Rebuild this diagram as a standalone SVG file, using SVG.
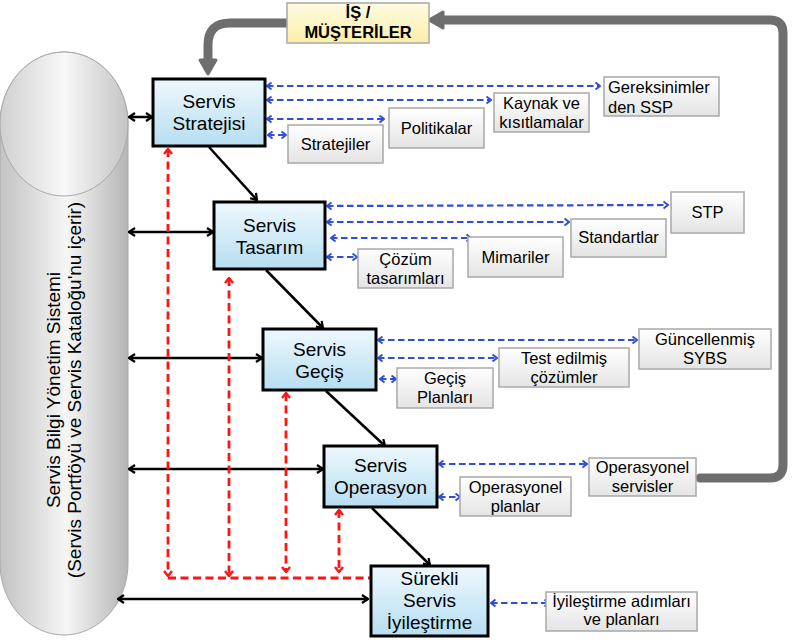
<svg xmlns="http://www.w3.org/2000/svg" width="809" height="640" viewBox="0 0 809 640">
<style>
.main{stroke:#000;stroke-width:3;fill:url(#gBlue)}
.sec{stroke:#a8a8a8;stroke-width:1.5;fill:url(#gGrey)}
.mt{font-family:"Liberation Sans",Arial,sans-serif;font-size:19px;fill:#000;text-anchor:middle}
.st{font-family:"Liberation Sans",Arial,sans-serif;font-size:16.5px;fill:#000;text-anchor:middle}
.blk{stroke:#000;stroke-width:2.5;fill:none;marker-end:url(#mB)}
.blk2{stroke:#000;stroke-width:2.5;fill:none;marker-end:url(#mB);marker-start:url(#mB)}
.blu{stroke:#2f4fd9;stroke-width:2.2;stroke-dasharray:6.5,3.5;fill:none;marker-end:url(#mU);marker-start:url(#mU)}
.red{stroke:#ff1414;stroke-width:2.8;stroke-dasharray:8,4.5;fill:none}
.redA{stroke:#ff1414;stroke-width:2.8;stroke-dasharray:8,4.5;fill:none;marker-end:url(#mR);marker-start:url(#mR)}
.gry{stroke:#6e6e6e;stroke-width:9;fill:none;stroke-linecap:round;stroke-linejoin:round}
</style>
<defs>
<linearGradient id="gBlue" x1="0" y1="0" x2="0" y2="1"><stop offset="0" stop-color="#eef8fd"/><stop offset="1" stop-color="#b6def2"/></linearGradient>
<linearGradient id="gGrey" x1="0" y1="0" x2="0" y2="1"><stop offset="0" stop-color="#ffffff"/><stop offset="1" stop-color="#e4e4e4"/></linearGradient>
<linearGradient id="gYel" x1="0" y1="0" x2="0" y2="1"><stop offset="0" stop-color="#fffbe2"/><stop offset="1" stop-color="#fbeea8"/></linearGradient>
<linearGradient id="gCyl" x1="0" y1="0" x2="1" y2="0"><stop offset="0" stop-color="#c2c2c2"/><stop offset="0.52" stop-color="#f6f6f6"/><stop offset="1" stop-color="#b5b5b5"/></linearGradient>
<linearGradient id="gCap" x1="0" y1="0" x2="1" y2="0"><stop offset="0" stop-color="#cfcfcf"/><stop offset="0.5" stop-color="#f8f8f8"/><stop offset="1" stop-color="#c4c4c4"/></linearGradient>
<marker id="mB" viewBox="0 0 10 10" refX="9" refY="5" markerWidth="10" markerHeight="10" markerUnits="userSpaceOnUse" orient="auto-start-reverse"><path d="M3,1 L9,5 L3,9" fill="none" stroke="#000" stroke-width="2.2"/></marker>
<marker id="mU" viewBox="0 0 9 9" refX="8" refY="4.5" markerWidth="9" markerHeight="9" markerUnits="userSpaceOnUse" orient="auto-start-reverse"><path d="M3.5,1 L8,4.5 L3.5,8" fill="none" stroke="#2f4fd9" stroke-width="1.9"/></marker>
<marker id="mR" viewBox="0 0 10 10" refX="9" refY="5" markerWidth="10" markerHeight="10" markerUnits="userSpaceOnUse" orient="auto-start-reverse"><path d="M4,1 L9,5 L4,9" fill="none" stroke="#ff1414" stroke-width="2.4"/></marker>
</defs>
<rect width="809" height="640" fill="#fff"/>

<g id="cylinder">
<path d="M0,124 A64,72 0 0 1 128,124 V563 A64,72 0 0 1 0,563 Z" fill="url(#gCyl)" stroke="#a8a8a8" stroke-width="1"/>
<ellipse cx="64" cy="124" rx="64" ry="72" fill="url(#gCap)" stroke="#a8a8a8" stroke-width="1"/>
<text transform="translate(60,390) rotate(-90)" class="mt" style="font-size:19px"><tspan x="0" y="0">Servis Bilgi Yönetim Sistemi</tspan><tspan x="0" y="21">(Servis Portföyü ve Servis Kataloğu'nu içerir)</tspan></text>
</g>

<g id="connectors">
<path class="gry" d="M292,23 H230 Q208,23 208,45 V60"/>
<polygon points="200,60 216,60 208,74" fill="#6e6e6e" stroke="#6e6e6e" stroke-width="3" stroke-linejoin="round"/>
<path class="gry" d="M700,478 H770 Q783,478 783,465 V33 Q783,20 770,20 H443"/>
<polygon points="443,12 443,28 429,20" fill="#6e6e6e" stroke="#6e6e6e" stroke-width="3" stroke-linejoin="round"/>

<line class="blk2" x1="129" y1="117" x2="152" y2="117"/>
<line class="blk2" x1="129" y1="232" x2="213" y2="232"/>
<line class="blk2" x1="129" y1="358" x2="262" y2="358"/>
<line class="blk2" x1="129" y1="469" x2="323" y2="469"/>
<line class="blk2" x1="118" y1="599" x2="368" y2="599"/>

<line class="blk" x1="209" y1="147" x2="257" y2="200"/>
<line class="blk" x1="266" y1="270" x2="323" y2="328"/>
<line class="blk" x1="326" y1="391" x2="385" y2="446"/>
<line class="blk" x1="372" y1="508" x2="430" y2="565"/>

<line class="blu" x1="267" y1="86" x2="600" y2="86"/>
<line class="blu" x1="267" y1="100" x2="491" y2="100"/>
<line class="blu" x1="267" y1="119" x2="384" y2="119"/>
<line class="blu" x1="268" y1="135" x2="286" y2="135"/>

<line class="blu" x1="327" y1="206" x2="668" y2="205"/>
<line class="blu" x1="327" y1="222" x2="569" y2="222"/>
<line class="blu" x1="331" y1="238" x2="471" y2="238"/>
<line class="blu" x1="327" y1="257" x2="357" y2="257"/>

<line class="blu" x1="378" y1="340" x2="637" y2="340"/>
<line class="blu" x1="378" y1="358" x2="497" y2="358"/>
<line class="blu" x1="380" y1="379" x2="396" y2="379"/>

<line class="blu" x1="439" y1="464" x2="587" y2="464"/>
<line class="blu" x1="439" y1="497" x2="460" y2="497"/>

<line class="blu" x1="491" y1="603" x2="549" y2="603"/>

<line class="red" x1="168" y1="578" x2="371" y2="578"/>
<line class="redA" x1="168" y1="149" x2="168" y2="576"/>
<line class="redA" x1="229" y1="278" x2="229" y2="576"/>
<line class="redA" x1="286" y1="393" x2="286" y2="572"/>
<line class="redA" x1="339" y1="510" x2="339" y2="572"/>
</g>

<g id="is-musteriler">
<rect x="287" y="3" width="142" height="40" fill="url(#gYel)" stroke="#a8a8a8" stroke-width="1.5"/>
<text class="st" style="font-weight:bold"><tspan x="358" y="18">İŞ /</tspan><tspan x="358" y="38">MÜŞTERİLER</tspan></text>
</g>

<g id="servis-stratejisi">
<rect class="main" x="153" y="79" width="112" height="67"/>
<text class="mt"><tspan x="209" y="108">Servis</tspan><tspan x="209" y="130">Stratejisi</tspan></text>
</g>
<g id="servis-tasarim">
<rect class="main" x="214" y="202" width="111" height="67"/>
<text class="mt"><tspan x="269.5" y="232">Servis</tspan><tspan x="269.5" y="254">Tasarım</tspan></text>
</g>
<g id="servis-gecis">
<rect class="main" x="263" y="329" width="113" height="61"/>
<text class="mt"><tspan x="319.5" y="356">Servis</tspan><tspan x="319.5" y="378">Geçiş</tspan></text>
</g>
<g id="servis-operasyon">
<rect class="main" x="324" y="446" width="113" height="61"/>
<text class="mt"><tspan x="380.5" y="472">Servis</tspan><tspan x="380.5" y="494">Operasyon</tspan></text>
</g>
<g id="surekli-iyilestirme">
<rect class="main" x="371" y="566" width="117" height="70"/>
<text class="mt"><tspan x="429.5" y="585">Sürekli</tspan><tspan x="429.5" y="607">Servis</tspan><tspan x="429.5" y="629">İyileştirme</tspan></text>
</g>

<g id="gereksinimler">
<rect class="sec" x="604" y="77" width="115" height="39"/>
<text class="st" style="text-anchor:start"><tspan x="608" y="93">Gereksinimler</tspan><tspan x="608" y="113">den SSP</tspan></text>
</g>
<g id="kaynak">
<rect class="sec" x="494" y="93" width="95" height="39"/>
<text class="st"><tspan x="541.5" y="109">Kaynak ve</tspan><tspan x="541.5" y="128">kısıtlamalar</tspan></text>
</g>
<g id="politikalar">
<rect class="sec" x="389" y="108" width="95" height="40"/>
<text class="st" x="436.5" y="134">Politikalar</text>
</g>
<g id="stratejiler">
<rect class="sec" x="288" y="125" width="95" height="38"/>
<text class="st" x="335.5" y="150">Stratejiler</text>
</g>
<g id="stp">
<rect class="sec" x="671" y="192" width="73" height="41"/>
<text class="st" x="707.5" y="218">STP</text>
</g>
<g id="standartlar">
<rect class="sec" x="571" y="219" width="95" height="38"/>
<text class="st" x="618.5" y="243">Standartlar</text>
</g>
<g id="mimariler">
<rect class="sec" x="468" y="237" width="95" height="40"/>
<text class="st" x="515.5" y="263">Mimariler</text>
</g>
<g id="cozum">
<rect class="sec" x="358" y="249" width="95" height="39"/>
<text class="st"><tspan x="405.5" y="265">Çözüm</tspan><tspan x="405.5" y="284">tasarımları</tspan></text>
</g>
<g id="guncellenmis">
<rect class="sec" x="639" y="329" width="132" height="40"/>
<text class="st"><tspan x="705" y="345">Güncellenmiş</tspan><tspan x="705" y="364">SYBS</tspan></text>
</g>
<g id="test">
<rect class="sec" x="499" y="348" width="130" height="39"/>
<text class="st"><tspan x="564" y="364">Test edilmiş</tspan><tspan x="564" y="383">çözümler</tspan></text>
</g>
<g id="gecis-planlari">
<rect class="sec" x="397" y="368" width="96" height="40"/>
<text class="st"><tspan x="445" y="384">Geçiş</tspan><tspan x="445" y="403">Planları</tspan></text>
</g>
<g id="op-servisler">
<rect class="sec" x="589" y="458" width="107" height="38"/>
<text class="st"><tspan x="642.5" y="473">Operasyonel</tspan><tspan x="642.5" y="492">servisler</tspan></text>
</g>
<g id="op-planlar">
<rect class="sec" x="460" y="477" width="111" height="39"/>
<text class="st"><tspan x="515.5" y="493">Operasyonel</tspan><tspan x="515.5" y="512">planlar</tspan></text>
</g>
<g id="iyilestirme-adimlari">
<rect class="sec" x="546" y="592" width="151" height="39"/>
<text class="st"><tspan x="621.5" y="607">İyileştirme adımları</tspan><tspan x="621.5" y="625">ve planları</tspan></text>
</g>
</svg>
